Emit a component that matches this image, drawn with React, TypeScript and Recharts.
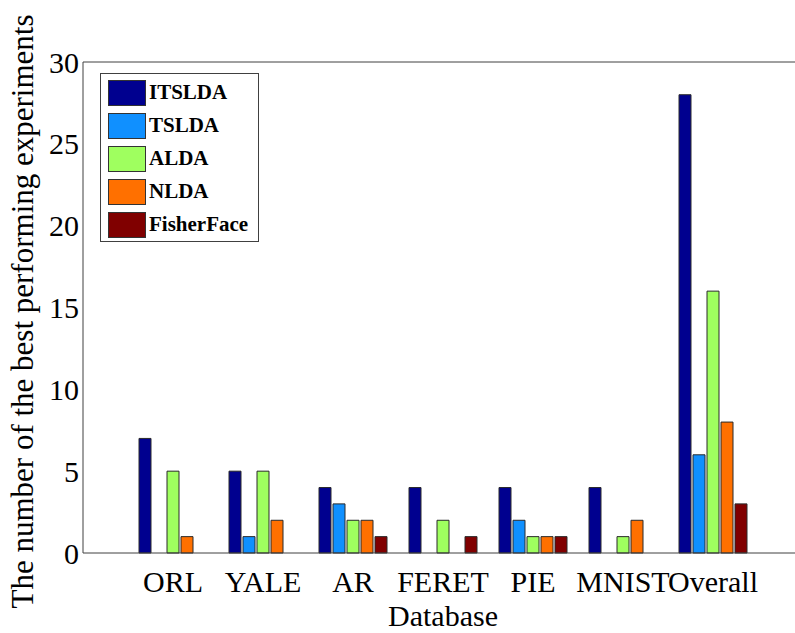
import React from 'react';
import { BarChart, Bar, XAxis, YAxis, Legend } from 'recharts';

const databases = ['ORL', 'YALE', 'AR', 'FERET', 'PIE', 'MNIST', 'Overall'];
const itsldaWins = [7, 5, 4, 4, 4, 4, 28];
const tsldaWins = [0, 1, 3, 0, 2, 0, 6];
const aldaWins = [5, 5, 2, 2, 1, 1, 16];
const nldaWins = [1, 2, 2, 0, 1, 2, 8];
const fisherFaceWins = [0, 0, 1, 1, 1, 0, 3];
const yTicks = [0, 5, 10, 15, 20, 25, 30];

const series = [
  { key: 'ITSLDA', values: itsldaWins, color: '#00008f' },
  { key: 'TSLDA', values: tsldaWins, color: '#1090ff' },
  { key: 'ALDA', values: aldaWins, color: '#9fff5f' },
  { key: 'NLDA', values: nldaWins, color: '#ff7000' },
  { key: 'FisherFace', values: fisherFaceWins, color: '#800000' },
];

const data = databases.map((name, i) => {
  const row: Record<string, string | number> = { name };
  series.forEach((s) => {
    row[s.key] = s.values[i];
  });
  return row;
});

const serif = "'Liberation Serif', 'Times New Roman', serif";
const axisColor = '#404040';

function LegendBox() {
  return (
    <div
      style={{
        width: 159,
        height: 169,
        border: `1px solid ${axisColor}`,
        background: '#fff',
        fontFamily: serif,
        fontWeight: 'bold',
        fontSize: 21,
        lineHeight: 1,
        paddingTop: 2,
        boxSizing: 'border-box',
        color: '#000',
      }}
    >
      {series.map((s) => (
        <div key={s.key} style={{ display: 'flex', alignItems: 'center', height: 33, marginLeft: 7 }}>
          <span
            style={{
              width: 36,
              height: 24,
              background: s.color,
              border: '1px solid #333',
              marginRight: 3,
              flex: 'none',
            }}
          />
          <span>{s.key}</span>
        </div>
      ))}
    </div>
  );
}

function YTitle(props: any) {
  const { viewBox } = props;
  const cx = viewBox.x + 25;
  const cy = viewBox.y + viewBox.height / 2 + 4;
  return (
    <text
      x={cx}
      y={cy}
      transform={`rotate(-90 ${cx} ${cy})`}
      textAnchor="middle"
      fontFamily={serif}
      fontSize={31}
      fill="#000"
    >
      The number of the best performing experiments
    </text>
  );
}

export default function App() {
  return (
    <div style={{ position: 'absolute', left: 0, top: 0, width: 795, height: 633, overflow: 'hidden', background: '#fff' }}>
      <BarChart
        width={810}
        height={633}
        data={data}
        margin={{ top: 62, right: 7, bottom: 0, left: 8 }}
        barSize={12}
        barGap={2}
      >
        <XAxis
          dataKey="name"
          height={80}
          interval={0}
          padding={{ left: 45, right: 45 }}
          tickLine={false}
          tickSize={0}
          tickMargin={18}
          axisLine={{ stroke: axisColor }}
          tick={{ fontFamily: serif, fontSize: 30, fill: '#000' }}
          label={{ value: 'Database', position: 'insideBottom', offset: 7, fontFamily: serif, fontSize: 30, fill: '#000' }}
        />
        <XAxis
          xAxisId="top"
          dataKey="name"
          orientation="top"
          mirror
          height={1}
          interval={0}
          padding={{ left: 45, right: 45 }}
          tick={false}
          tickSize={6}
          tickLine={{ stroke: axisColor, strokeWidth: 1.5 }}
          axisLine={{ stroke: axisColor }}
        />
        <YAxis
          domain={[0, 30]}
          ticks={yTicks}
          width={75}
          tickLine={false}
          tickSize={4}
          tickMargin={0}
          axisLine={{ stroke: axisColor }}
          tick={{ fontFamily: serif, fontSize: 30, fill: '#000' }}
          label={{ content: YTitle }}
        />
        <YAxis
          yAxisId="inner"
          domain={[0, 30]}
          ticks={yTicks}
          mirror
          width={1}
          tick={false}
          tickSize={6}
          tickLine={{ stroke: axisColor, strokeWidth: 1.5 }}
          axisLine={false}
        />
        <Legend
          layout="vertical"
          align="center"
          verticalAlign="middle"
          content={() => <LegendBox />}
          wrapperStyle={{ left: 100, top: 73, width: 159, height: 169 }}
        />
        {series.map((s) => (
          <Bar
            key={s.key}
            dataKey={s.key}
            fill={s.color}
            stroke="#2a2a2a"
            strokeWidth={1}
            isAnimationActive={false}
          />
        ))}
      </BarChart>
    </div>
  );
}
